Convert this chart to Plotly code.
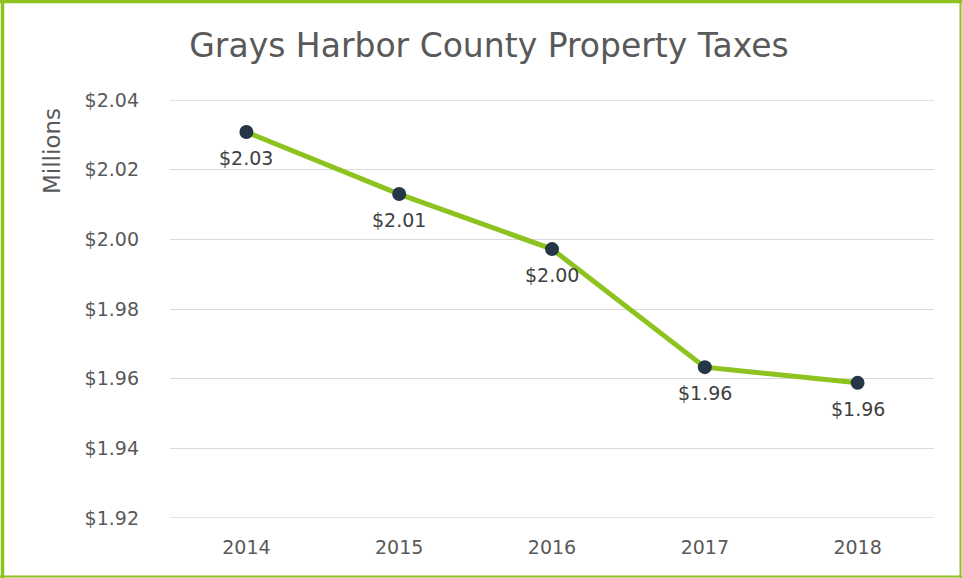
import plotly.graph_objects as go

years = ["2014", "2015", "2016", "2017", "2018"]
taxes_millions = [2.0308, 2.0130, 1.9972, 1.9633, 1.9588]
data_labels = ["$2.03", "$2.01", "$2.00", "$1.96", "$1.96"]
y_ticks = [1.92, 1.94, 1.96, 1.98, 2.00, 2.02, 2.04]
y_tick_labels = ["$1.92", "$1.94", "$1.96", "$1.98", "$2.00", "$2.02", "$2.04"]

W, H = 962, 578
L, R, T, B = 170, 28, 100, 60
pw, ph = W - L - R, H - T - B

def px(x):
    return (x - L) / pw

def py(y):
    return (H - B - y) / ph

FONT = "DejaVu Sans, sans-serif"
green = "#8DC21F"
grid = "#D9D9D9"
fig = go.Figure()
fig.add_trace(go.Scatter(
    x=years, y=taxes_millions, mode="lines+markers",
    line=dict(color=green, width=5),
    marker=dict(color="#253746", size=14),
    showlegend=False, cliponaxis=False, hoverinfo="skip",
))

border = [
    (2.5, 0, 2.5, H, 3.5),
    (0, 1.5, W, 1.5, 3.5),
    (960.5, 0, 960.5, H, 2),
    (0, 576.5, W, 576.5, 2),
]
shapes = [dict(type="line", xref="paper", yref="paper",
               x0=px(a), y0=py(b), x1=px(c), y1=py(d),
               line=dict(color=green, width=w)) for a, b, c, d, w in border]
# edge gridlines (top and bottom) which plotly omits at the range limits
for yv in (y_ticks[0], y_ticks[-1]):
    shapes.append(dict(type="line", xref="paper", yref="y", x0=0, x1=1, y0=yv, y1=yv,
                       layer="below", line=dict(color=grid, width=1.3)))

annotations = [dict(text=t, x=i, y=yv, xref="x", yref="y", showarrow=False,
                    yshift=-26, xanchor="center", yanchor="middle",
                    font=dict(family=FONT, size=19, color="#404040"))
               for i, (yv, t) in enumerate(zip(taxes_millions, data_labels))]
annotations.append(dict(text="Millions", xref="paper", yref="paper", x=px(52), y=py(106),
                        xanchor="center", yanchor="top", textangle=-90, showarrow=False,
                        font=dict(family=FONT, size=23, color="#595959")))

fig.update_layout(
    width=W, height=H,
    margin=dict(l=L, r=R, t=T, b=B),
    paper_bgcolor="white", plot_bgcolor="white",
    title=dict(text="Grays Harbor County Property Taxes", x=489 / W, xanchor="center",
               y=1 - 45 / H, yanchor="middle",
               font=dict(family=FONT, size=33, color="#595959")),
    xaxis=dict(type="category", range=[-0.5, 4.5], showgrid=False, showline=False,
               ticks="", ticklabelstandoff=16,
               tickfont=dict(family=FONT, size=19, color="#595959"),
               zeroline=False),
    yaxis=dict(range=[1.92, 2.04], tickvals=y_ticks, ticktext=y_tick_labels,
               showgrid=True, gridcolor=grid, gridwidth=1.3, zeroline=False,
               showline=False, ticks="", ticklabelstandoff=30,
               tickfont=dict(family=FONT, size=19, color="#595959")),
    shapes=shapes,
    annotations=annotations,
)
fig.write_html("out.html", config={"displayModeBar": False},
               post_script="document.body.style.margin='0px';")
